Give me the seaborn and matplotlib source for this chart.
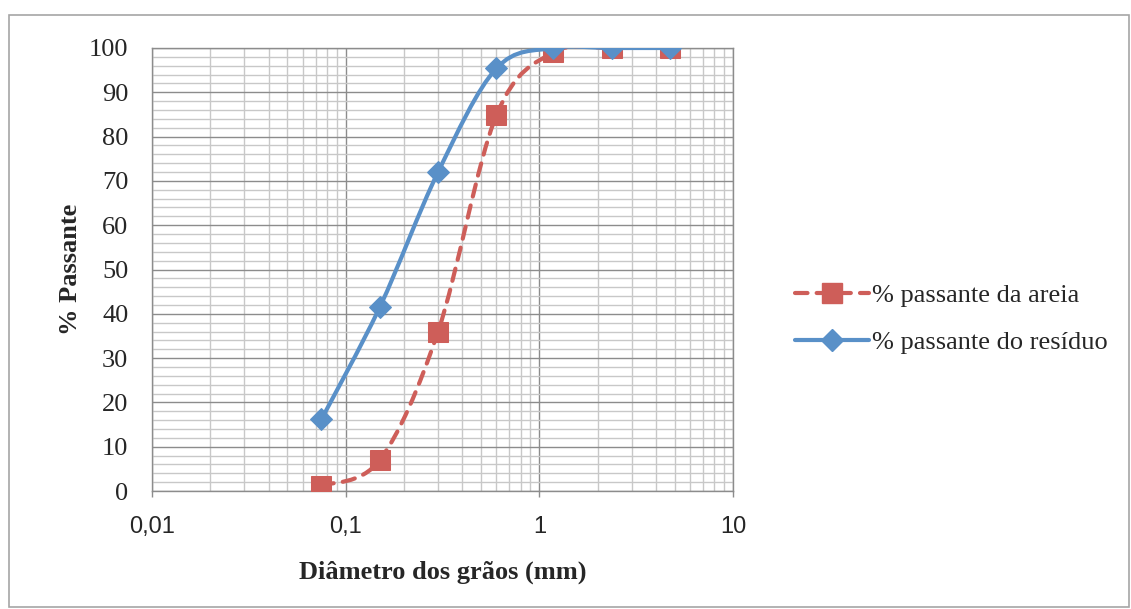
import matplotlib
matplotlib.use("Agg")
import matplotlib.pyplot as plt
import numpy as np
import seaborn as sns
from matplotlib.lines import Line2D
from matplotlib.patches import PathPatch, Rectangle
from matplotlib.path import Path
from matplotlib.ticker import FixedLocator, FuncFormatter, MultipleLocator, NullFormatter

# sieve openings (mm) and cumulative % passing
diametro = [0.075, 0.15, 0.3, 0.6, 1.18, 2.36, 4.75]
passante_areia = [1.2, 7.0, 36.0, 84.8, 99.0, 100.0, 100.0]
passante_residuo = [16.2, 41.5, 72.0, 95.4, 100.0, 100.0, 100.0]

label_areia = "% passante da areia"
label_residuo = "% passante do resíduo"
x_ticks = [0.01, 0.1, 1, 10]
x_ticklabels = ["0,01", "0,1", "1", "10"]

RED = "#CE5E59"
BLUE = "#5990C8"
DASH = (0, (3.0, 2.2))
LW = 3.0

sns.set_theme(style="white")
plt.rcParams["font.family"] = ["Liberation Serif", "DejaVu Serif"]


def smooth_path(xs, ys):
    # excel-like smoothed line: catmull-rom -> cubic bezier in (log x, y)
    u = np.log10(np.asarray(xs, float))
    v = np.asarray(ys, float)
    pts = np.column_stack([u, v])
    ext = np.vstack([pts[0], pts, pts[-1]])
    verts = [pts[0]]
    codes = [Path.MOVETO]
    for i in range(len(pts) - 1):
        p0, p1, p2, p3 = ext[i], ext[i + 1], ext[i + 2], ext[i + 3]
        c1 = p1 + (p2 - p0) / 6.0
        c2 = p2 - (p3 - p1) / 6.0
        verts += [c1, c2, p2]
        codes += [Path.CURVE4] * 3
    verts = np.array(verts)
    verts[:, 0] = 10 ** verts[:, 0]
    return Path(verts, codes)


fig = plt.figure(figsize=(11.31, 6.09), dpi=100)
fig.patches.append(Rectangle((9 / 1131, 2 / 609), 1120 / 1131, 592 / 609,
                             transform=fig.transFigure, fill=False,
                             edgecolor="#A6A6A6", linewidth=1.2, zorder=0))
ax = fig.add_axes([152 / 1131, 1 - 491 / 609, 581 / 1131, 443 / 609])

ax.set_xscale("log")
ax.set_xlim(0.01, 10)
ax.set_ylim(0, 100)

# grid
ax.xaxis.set_major_locator(FixedLocator(x_ticks))
ax.xaxis.set_minor_locator(FixedLocator([m * 10.0 ** e for e in (-2, -1, 0) for m in range(2, 10)]))
ax.xaxis.set_major_formatter(FuncFormatter(lambda v, p: x_ticklabels[x_ticks.index(v)] if v in x_ticks else ""))
ax.xaxis.set_minor_formatter(NullFormatter())
ax.yaxis.set_major_locator(MultipleLocator(10))
ax.yaxis.set_minor_locator(MultipleLocator(2))
ax.grid(which="minor", color="#C8C8C8", linewidth=1.0)
ax.grid(which="major", color="#8C8C8C", linewidth=1.0)
ax.set_axisbelow(True)
for s in ax.spines.values():
    s.set_color("#8C8C8C")
    s.set_linewidth(1.0)

ax.tick_params(axis="x", which="major", length=4, width=1, color="#8C8C8C",
               direction="out", pad=14, labelsize=17, bottom=True)
ax.tick_params(axis="x", which="minor", length=0)
ax.tick_params(axis="y", which="both", length=0, pad=17, labelsize=19)
for t in ax.get_xticklabels():
    t.set_fontfamily(["Liberation Sans", "DejaVu Sans"])

# curves
ax.add_patch(PathPatch(smooth_path(diametro, passante_areia), fill=False,
                       edgecolor=RED, linewidth=LW, linestyle=DASH,
                       capstyle="round", zorder=3))
sns.lineplot(x=diametro, y=passante_areia, ax=ax, marker="s", markersize=14,
             linestyle="", color=RED, markeredgecolor=RED, zorder=4)
ax.add_patch(PathPatch(smooth_path(diametro, passante_residuo), fill=False,
                       edgecolor=BLUE, linewidth=LW, zorder=5))
sns.lineplot(x=diametro, y=passante_residuo, ax=ax, marker="D", markersize=11,
             linestyle="", color=BLUE, markeredgecolor=BLUE, zorder=6)

ax.set_xlabel("Diâmetro dos grãos (mm)", fontsize=19, fontweight="bold", labelpad=16)
ax.set_ylabel("% Passante", fontsize=19, fontweight="bold", labelpad=5)

handles = [
    Line2D([], [], color=RED, linewidth=LW, linestyle=DASH,
           dash_capstyle="round", marker="s", markersize=14),
    Line2D([], [], color=BLUE, linewidth=LW, marker="D", markersize=11),
]
fig.legend(handles, [label_areia, label_residuo], loc="center left",
           bbox_to_anchor=(795 / 1131, 1 - 319 / 609), frameon=False,
           fontsize=19, handlelength=2.8, handletextpad=0.1, labelspacing=0.9,
           borderaxespad=0, borderpad=0)

fig.savefig("out.png", dpi=100)
